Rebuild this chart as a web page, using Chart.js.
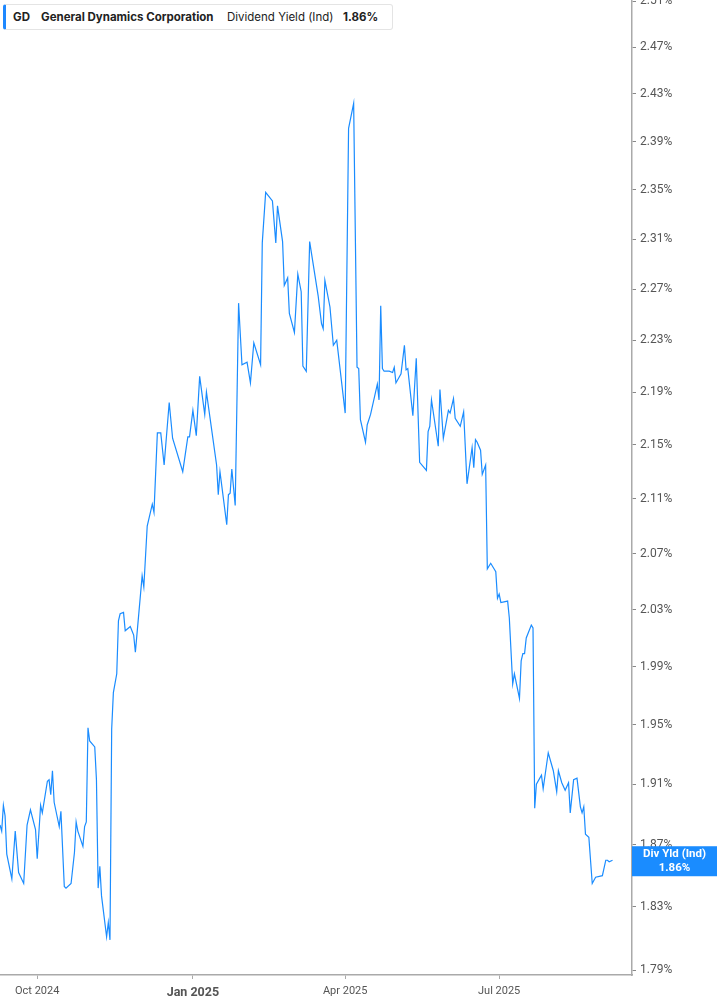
<!DOCTYPE html>
<html>
<head>
<meta charset="utf-8">
<title>GD Dividend Yield</title>
<script src="https://cdn.jsdelivr.net/npm/chart.js@4.4.1/dist/chart.umd.min.js"></script>
<style>
  html, body { margin: 0; padding: 0; background: #fff; }
  #wrap { position: relative; width: 717px; height: 1005px; }
  #legendBox {
    position: absolute; left: 3px; top: 4px; width: 386px; height: 24px;
    border: 1px solid #e4e4e4; border-left: 3px solid #1e88ff; border-radius: 3px;
    background: #fff; font-family: Inter, 'Noto Sans', sans-serif; font-size: 11.5px; color: #222;
  }
  #legendBox span { position: absolute; top: 5px; white-space: nowrap; }
  .b { font-weight: 700; }
</style>
</head>
<body>
<div id="wrap">
  <canvas id="chartYield"></canvas>
  <div id="legendBox">
    <span class="b" style="left:7px">GD</span>
    <span class="b" style="left:35px">General Dynamics Corporation</span>
    <span style="left:221px">Dividend Yield (Ind)</span>
    <span class="b" style="left:337px">1.86%</span>
  </div>
</div>
<script>
/* ---------- Data (days counted from the first session, 2024-09-09) ---------- */
const startDate = '2024-09-09';

const dayOffsets = [
  0, 1, 2, 3, 4, 7, 9, 11, 14, 16, 18, 21, 22, 24, 25, 28, 29, 30, 31, 32,
  35, 36, 38, 39, 42, 44, 45, 46, 49, 50, 51, 52, 53, 56, 57, 58, 59, 60, 63, 64,
  65, 66, 67, 69, 70, 71, 73, 74, 77, 79, 80, 84, 85, 87, 90, 91, 93, 95, 97, 100,
  102, 108, 111, 112, 114, 116, 118, 121, 122, 128, 129, 130, 134, 135, 136, 137, 139, 141, 143, 146,
  148, 150, 154, 155, 157, 161, 163, 164, 167, 168, 170, 171, 174, 176, 178, 179, 181, 183, 188, 190,
  191, 192, 195, 197, 199, 204, 206, 209, 211, 212, 213, 216, 217, 219, 223, 224, 225, 226, 227, 230,
  232, 233, 234, 237, 239, 240, 241, 244, 246, 248, 252, 253, 254, 255, 259, 260, 262, 265, 266, 268,
  269, 272, 274, 276, 279, 280, 281, 282, 284, 285, 287, 288, 290, 293, 294, 295, 296, 300, 301, 303,
  304, 307, 308, 309, 310, 311, 314, 315, 316, 317, 320, 321, 323, 324, 327, 329, 330, 332, 334, 336,
  337, 339, 341, 343, 344, 345, 346, 348, 350, 352, 356, 358, 359, 360, 362
];

const yieldValues = [
  1.883, 1.879, 1.896, 1.889, 1.864, 1.848, 1.879, 1.852, 1.845, 1.883, 1.893, 1.880, 1.861, 1.896, 1.891, 1.912, 1.913, 1.903, 1.919, 1.898,
  1.882, 1.892, 1.843, 1.842, 1.845, 1.865, 1.885, 1.879, 1.869, 1.882, 1.885, 1.948, 1.939, 1.935, 1.913, 1.842, 1.856, 1.837, 1.811, 1.820,
  1.809, 1.947, 1.972, 1.985, 2.022, 2.027, 2.028, 2.015, 2.018, 2.012, 2.000, 2.054, 2.046, 2.090, 2.106, 2.100, 2.159, 2.159, 2.135, 2.182,
  2.155, 2.130, 2.156, 2.156, 2.176, 2.157, 2.202, 2.173, 2.190, 2.135, 2.113, 2.130, 2.091, 2.113, 2.114, 2.132, 2.105, 2.259, 2.211, 2.213,
  2.197, 2.228, 2.211, 2.307, 2.348, 2.341, 2.307, 2.337, 2.308, 2.273, 2.279, 2.251, 2.236, 2.282, 2.268, 2.210, 2.206, 2.308, 2.265, 2.243,
  2.239, 2.277, 2.256, 2.226, 2.230, 2.174, 2.401, 2.422, 2.209, 2.208, 2.169, 2.152, 2.165, 2.173, 2.196, 2.184, 2.257, 2.208, 2.206, 2.206,
  2.205, 2.209, 2.197, 2.204, 2.226, 2.207, 2.208, 2.172, 2.216, 2.137, 2.131, 2.160, 2.164, 2.184, 2.149, 2.192, 2.155, 2.176, 2.174, 2.185,
  2.170, 2.164, 2.175, 2.121, 2.148, 2.133, 2.154, 2.152, 2.146, 2.128, 2.135, 2.059, 2.063, 2.057, 2.038, 2.041, 2.035, 2.036, 2.024, 1.978,
  1.985, 1.968, 1.994, 1.999, 1.999, 2.010, 2.019, 2.017, 1.894, 1.910, 1.916, 1.907, 1.923, 1.931, 1.919, 1.905, 1.919, 1.911, 1.906, 1.911,
  1.891, 1.913, 1.914, 1.895, 1.891, 1.895, 1.877, 1.875, 1.845, 1.849, 1.850, 1.860, 1.860, 1.859, 1.860
];

const yTicks = [1.79, 1.83, 1.87, 1.91, 1.95, 1.99, 2.03, 2.07, 2.11, 2.15, 2.19, 2.23, 2.27, 2.31, 2.35, 2.39, 2.43, 2.47, 2.51];
const xTickDates = ['2024-10-01', '2025-01-01', '2025-04-01', '2025-07-01'];
const xTickLabels = ['Oct 2024', 'Jan 2025', 'Apr 2025', 'Jul 2025'];
const boldTickLabel = 'Jan 2025';

const lastLabel = 'Div Yld (Ind)';
const lastValueText = '1.86%';

/* ---------- Helpers ---------- */
function daysFromStart(iso) {
    return Math.round((Date.parse(iso) - Date.parse(startDate)) / 86400000);
}
const xTickDays = xTickDates.map(daysFromStart);

const lineColor = '#1a8cff';

/* ---------- Last value tag on the right axis ---------- */
const lastValueTag = {
    id: 'lastValueTag',
    afterDraw(chart) {
        const y = chart.scales.y;
        const ctx = chart.ctx;
        const val = yieldValues[yieldValues.length - 1];
        const py = y.getPixelForValue(val);
        const left = chart.chartArea.right;
        const w = chart.width - left;
        ctx.save();
        ctx.fillStyle = lineColor;
        ctx.fillRect(left, py - 14, w, 30);
        ctx.fillStyle = '#fff';
        ctx.textAlign = 'center';
        ctx.textBaseline = 'middle';
        ctx.font = "bold 11.5px Roboto, 'Noto Sans', sans-serif";
        ctx.fillText(lastLabel, left + w / 2, py - 6);
        ctx.fillText(lastValueText, left + w / 2, py + 8);
        ctx.restore();
    }
};

/* ---------- Chart ---------- */
new Chart(document.getElementById('chartYield'), {
    type: 'line',
    data: {
        datasets: [{
            label: 'Dividend Yield (Ind)',
            data: dayOffsets.map((d, i) => ({ x: d, y: yieldValues[i] })),
            borderColor: lineColor,
            borderWidth: 1.2,
            pointRadius: 0,
            tension: 0,
            fill: false
        }]
    },
    options: {
        responsive: true, maintainAspectRatio: false,
        animation: false,
        layout: { padding: 0 },
        plugins: { legend: { display: false }, tooltip: { enabled: false } },
        scales: {
            x: {
                type: 'linear',
                min: 0, max: 373.5,
                afterBuildTicks: s => { s.ticks = xTickDays.map(v => ({ value: v })); },
                afterFit: s => { s.height = 30; s.paddingLeft = 0; s.paddingRight = 0; },
                ticks: {
                    autoSkip: false, maxRotation: 0,
                    color: '#555',
                    padding: 6,
                    font: c => (c.index === xTickLabels.indexOf(boldTickLabel)
                        ? { family: 'Roboto', size: 12.5, weight: 'bold' }
                        : { family: 'Roboto', size: 11 }),
                    callback: (v, i) => xTickLabels[i]
                },
                grid: { drawOnChartArea: false, drawTicks: true, tickLength: 4, color: '#aaa' },
                border: { display: true, color: '#aaa', width: 1.5 }
            },
            y: {
                type: 'logarithmic',
                position: 'right',
                min: 1.787, max: 2.511,
                afterBuildTicks: s => { s.ticks = yTicks.map(v => ({ value: v })); },
                afterFit: s => { s.width = 85; s.paddingTop = 0; s.paddingBottom = 0; },
                ticks: {
                    color: '#555',
                    padding: 4,
                    font: { family: 'Roboto', size: 12 },
                    callback: v => Number(v).toFixed(2) + '%'
                },
                grid: { drawOnChartArea: false, drawTicks: true, tickLength: 4, color: '#888' },
                border: { display: true, color: '#aaa', width: 1.5 }
            }
        }
    },
    plugins: [lastValueTag]
});
</script>
</body>
</html>
